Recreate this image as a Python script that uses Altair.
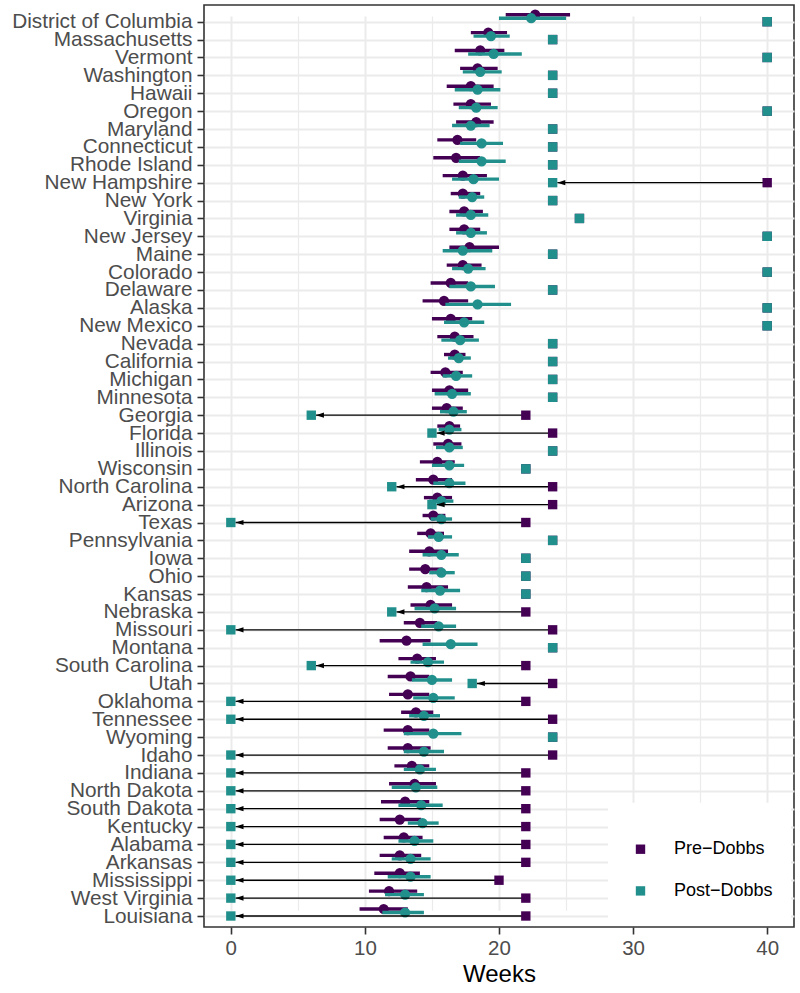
import altair as alt
import pandas as pd

states = ["District of Columbia", "Massachusetts", "Vermont", "Washington", "Hawaii",
          "Oregon", "Maryland", "Connecticut", "Rhode Island", "New Hampshire",
          "New York", "Virginia", "New Jersey", "Maine", "Colorado",
          "Delaware", "Alaska", "New Mexico", "Nevada", "California",
          "Michigan", "Minnesota", "Georgia", "Florida", "Illinois",
          "Wisconsin", "North Carolina", "Arizona", "Texas", "Pennsylvania",
          "Iowa", "Ohio", "Kansas", "Nebraska", "Missouri",
          "Montana", "South Carolina", "Utah", "Oklahoma", "Tennessee",
          "Wyoming", "Idaho", "Indiana", "North Dakota", "South Dakota",
          "Kentucky", "Alabama", "Arkansas", "Mississippi", "West Virginia", "Louisiana"]

pre_est = [22.7, 19.2, 18.6, 18.4, 17.9, 17.9, 18.3, 16.9, 16.8, 17.3,
           17.3, 17.4, 17.4, 17.8, 17.3, 16.4, 15.9, 16.4, 16.7, 16.7,
           16.0, 16.3, 16.1, 16.3, 16.2, 15.4, 15.1, 15.4, 15.1, 14.9,
           14.8, 14.5, 14.6, 14.9, 14.1, 13.1, 13.9, 13.4, 13.2, 13.8,
           13.2, 13.2, 13.5, 13.7, 13.0, 12.6, 12.9, 12.6, 12.6, 11.8, 11.4]
pre_lo = [20.5, 17.9, 16.7, 17.1, 16.1, 16.6, 16.8, 15.4, 15.1, 15.8,
          16.4, 16.3, 16.3, 16.3, 16.1, 14.9, 14.3, 15.0, 15.4, 15.9,
          14.9, 15.0, 15.0, 15.4, 15.1, 14.1, 13.8, 14.4, 14.3, 13.9,
          13.3, 13.3, 13.2, 13.4, 12.9, 11.1, 12.5, 11.7, 11.8, 12.7,
          11.4, 11.7, 12.2, 11.8, 11.2, 11.1, 11.4, 11.1, 10.7, 10.3, 9.6]
pre_hi = [25.3, 20.6, 20.4, 19.9, 19.6, 19.4, 19.6, 18.3, 18.6, 19.1,
          18.6, 18.8, 18.6, 20.0, 18.7, 17.7, 17.7, 18.0, 18.1, 17.5,
          17.3, 17.7, 17.3, 17.1, 17.2, 16.7, 16.5, 16.5, 16.0, 15.9,
          16.2, 15.8, 16.2, 16.5, 15.4, 14.9, 15.3, 14.8, 14.8, 15.1,
          14.8, 14.9, 14.8, 15.3, 14.8, 14.2, 14.3, 14.2, 14.1, 13.9, 13.2]
post_est = [22.4, 19.4, 19.6, 18.6, 18.4, 18.3, 17.9, 18.7, 18.7, 18.1,
            18.0, 17.9, 17.9, 17.3, 17.7, 17.9, 18.4, 17.4, 17.1, 17.0,
            16.8, 16.5, 16.6, 16.3, 16.3, 16.3, 16.3, 15.7, 15.7, 15.5,
            15.7, 15.7, 15.6, 15.2, 15.5, 16.4, 14.7, 15.0, 15.1, 14.4,
            15.1, 14.4, 14.1, 13.8, 14.2, 14.3, 13.7, 13.4, 13.4, 13.0, 13.0]
post_lo = [20.0, 18.1, 17.7, 17.3, 16.7, 17.0, 16.5, 17.1, 17.0, 16.5,
           17.0, 16.8, 16.8, 15.8, 16.5, 16.3, 16.0, 15.9, 15.7, 16.2,
           15.8, 15.2, 15.6, 15.5, 15.3, 15.0, 15.1, 14.8, 14.9, 14.7,
           14.3, 14.8, 14.2, 13.7, 14.2, 14.3, 13.4, 13.5, 13.6, 13.3,
           12.9, 12.9, 12.9, 12.0, 12.5, 13.2, 12.5, 12.0, 11.7, 11.5, 11.3]
post_hi = [25.0, 20.8, 21.7, 20.2, 20.1, 19.9, 19.3, 20.3, 20.5, 20.0,
           18.9, 19.2, 19.1, 19.5, 19.0, 19.7, 20.9, 18.9, 18.5, 17.9,
           18.0, 17.9, 17.6, 17.2, 17.3, 17.4, 17.5, 16.6, 16.5, 16.5,
           17.0, 16.7, 17.1, 16.8, 16.8, 18.4, 15.9, 16.5, 16.7, 15.6,
           17.2, 15.9, 15.3, 15.4, 15.8, 15.5, 15.1, 14.9, 14.9, 14.4, 14.4]
pre_limit = [40, 24, 40, 24, 24, 40, 24, 24, 24, 40,
             24, 26, 40, 24, 40, 24, 40, 40, 24, 24,
             24, 24, 22, 24, 24, 22, 24, 24, 22, 24,
             22, 22, 22, 22, 24, 24, 22, 24, 22, 24,
             24, 24, 22, 22, 22, 22, 22, 22, 20, 22, 22]
post_limit = [40, 24, 40, 24, 24, 40, 24, 24, 24, 24,
              24, 26, 40, 24, 40, 24, 40, 40, 24, 24,
              24, 24, 6, 15, 24, 22, 12, 15, 0, 24,
              22, 22, 22, 12, 0, 24, 6, 18, 0, 0,
              24, 0, 0, 0, 0, 0, 0, 0, 0, 0, 0]

periods = ["Pre\u2212Dobbs", "Post\u2212Dobbs"]
PURPLE = "#440154"
TEAL = "#21908C"
FONT = "Liberation Sans"

df = pd.DataFrame({
    "state": states, "pre_est": pre_est, "pre_lo": pre_lo, "pre_hi": pre_hi,
    "post_est": post_est, "post_lo": post_lo, "post_hi": post_hi,
    "pre_limit": pre_limit, "post_limit": post_limit,
})

arrows = df[df["pre_limit"] != df["post_limit"]].copy()
arrows["arrow_end"] = arrows["post_limit"] + 0.35

limits = pd.concat([
    pd.DataFrame({"state": states, "limit": pre_limit, "period": periods[0], "ord": 0}),
    pd.DataFrame({"state": states, "limit": post_limit, "period": periods[1], "ord": 1}),
], ignore_index=True)

xscale = alt.Scale(domain=[-2, 42], nice=False, zero=False)
xaxis = alt.Axis(
    values=list(range(0, 41, 5)), title="Weeks",
    labelExpr="datum.value % 10 === 0 ? datum.label : ''",
    tickOpacity=alt.ExprRef(expr="datum.value % 10 === 0 ? 1 : 0"),
    gridWidth=alt.ExprRef(expr="datum.value % 10 === 0 ? 2 : 1.2"),
    grid=True, gridColor="#EBEBEB", domain=False,
    tickColor="#333333", tickWidth=1.6, tickSize=7,
    labelFontSize=20.5, labelColor="#4D4D4D", labelPadding=4, labelFont=FONT,
    titleFontSize=24, titleFont=FONT, titleFontWeight="normal", titleColor="black",
    titlePadding=4,
)
yenc = alt.Y("state:N", sort=states, title=None,
             scale=alt.Scale(type="point", range=[16.7, 911], padding=0),
             axis=alt.Axis(grid=True, gridColor="#EBEBEB", gridWidth=2, domain=False,
                           tickColor="#333333", tickWidth=1.6, tickSize=7,
                           labelFontSize=20.8, labelColor="#4D4D4D", labelPadding=5,
                           labelFont=FONT, labelLimit=400))


def X(field):
    return alt.X(f"{field}:Q", scale=xscale, axis=xaxis, title="Weeks")


base = alt.Chart(df)

pre_bar = base.mark_rule(color=PURPLE, strokeWidth=3.4, yOffset=-7).encode(
    x=X("pre_lo"), x2="pre_hi:Q", y=yenc)
pre_pt = base.mark_circle(color=PURPLE, size=105, opacity=1, yOffset=-7).encode(
    x=X("pre_est"), y=yenc)
post_bar = base.mark_rule(color=TEAL, strokeWidth=3.4, yOffset=-3.5).encode(
    x=X("post_lo"), x2="post_hi:Q", y=yenc)
post_pt = base.mark_circle(color=TEAL, size=105, opacity=1, yOffset=-3.5).encode(
    x=X("post_est"), y=yenc)

arrow_line = alt.Chart(arrows).mark_rule(color="black", strokeWidth=1.3).encode(
    x=X("pre_limit"), x2="arrow_end:Q", y=yenc)
arrow_head = alt.Chart(arrows).mark_point(
    shape="M0,0L2,-0.65L2,0.65Z", filled=True, color="black", opacity=1, size=64,
    strokeWidth=0).encode(x=X("arrow_end"), y=yenc)

squares = alt.Chart(limits).mark_square(size=88, opacity=1).encode(
    x=X("limit"), y=yenc,
    order=alt.Order("ord:Q"),
    color=alt.Color("period:N", scale=alt.Scale(domain=periods, range=[PURPLE, TEAL]),
                    legend=alt.Legend(
                        title=" ", titleFontSize=5, titlePadding=14.5,
                        orient="none", legendX=404, legendY=797.7,
                        fillColor="white", padding=18,
                        symbolType="square", symbolSize=88, symbolOpacity=1,
                        symbolStrokeWidth=0, symbolOffset=5.5,
                        labelOffset=24.5, rowPadding=23.7,
                        labelFontSize=18, labelColor="black", labelFont=FONT)),
)

chart = alt.layer(pre_bar, pre_pt, post_bar, post_pt, arrow_line, arrow_head, squares).properties(
    width=590, height=922,
    autosize=alt.AutoSizeParams(type="none"),
    padding={"left": 204, "top": 5, "right": 6, "bottom": 66},
    background="white",
).configure_view(stroke="#333333", strokeWidth=1.6)

chart.save("out.html", embed_options={"renderer": "svg", "actions": False})
